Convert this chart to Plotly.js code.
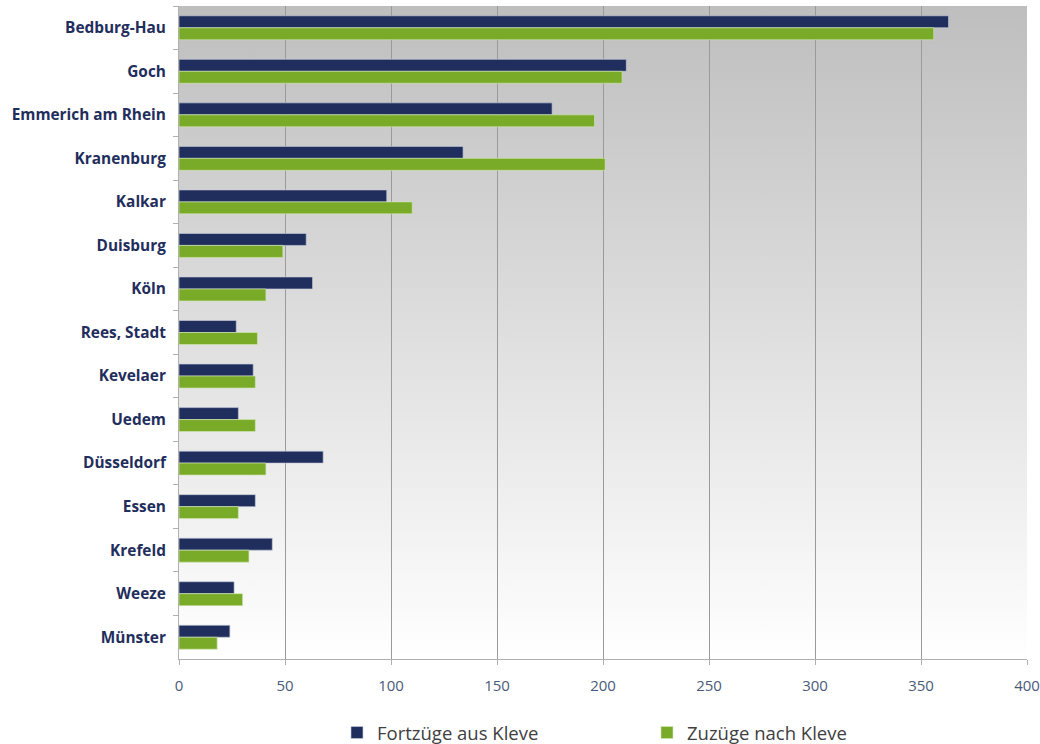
<!DOCTYPE html>
<html>
<head>
<meta charset="utf-8">
<script src="https://cdn.plot.ly/plotly-3.0.1.min.js"></script>
<style>html,body{margin:0;padding:0;background:#fff;}#chart{width:1040px;height:744px;}</style>
</head>
<body>
<div id="chart"></div>
<script>
const categories = ["Bedburg-Hau","Goch","Emmerich am Rhein","Kranenburg","Kalkar","Duisburg","Köln","Rees, Stadt","Kevelaer","Uedem","Düsseldorf","Essen","Krefeld","Weeze","Münster"];
const fortzuege = [363, 211, 176, 134, 98, 60, 63, 27, 35, 28, 68, 36, 44, 26, 24];
const zuzuege   = [356, 209, 196, 201, 110, 49, 41, 37, 36, 36, 41, 28, 33, 30, 18];
const seriesNames = ["Fortzüge aus Kleve", "Zuzüge nach Kleve"];
const xTicks = [0, 50, 100, 150, 200, 250, 300, 350, 400];

const gradSvg = '<svg xmlns="http://www.w3.org/2000/svg" width="100" height="100" preserveAspectRatio="none">' +
  '<defs><linearGradient id="g" x1="0" y1="0" x2="0" y2="1">' +
  '<stop offset="0" stop-color="#bebebe"/><stop offset="1" stop-color="#ffffff"/></linearGradient></defs>' +
  '<rect width="100" height="100" fill="url(#g)"/></svg>';
const gradUri = 'data:image/svg+xml;base64,' + btoa(gradSvg);

const traces = [
  {type:'bar', orientation:'h', name:seriesNames[0], y:categories, x:fortzuege,
   marker:{color:'#1f2e5c', line:{color:'rgba(200,205,220,0.8)', width:0.8}}},
  {type:'bar', orientation:'h', name:seriesNames[1], y:categories, x:zuzuege,
   marker:{color:'#7aab28', line:{color:'rgba(210,230,180,0.8)', width:0.8}}}
];

const layout = {
  width:1040, height:744,
  margin:{l:179, r:13, t:6, b:85, autoexpand:false},
  paper_bgcolor:'#ffffff',
  plot_bgcolor:'rgba(0,0,0,0)',
  barmode:'group',
  bargap:0.45,
  bargroupgap:0,
  images:[{source:gradUri, xref:'paper', yref:'paper', x:0, y:1, sizex:1, sizey:1,
           xanchor:'left', yanchor:'top', sizing:'stretch', layer:'below'}],
  xaxis:{range:[0,400], tickvals:xTicks, ticktext:xTicks.map(String),
         showgrid:true, gridcolor:'#9a9a9a', gridwidth:1,
         zeroline:false, showline:true, linecolor:'#b0b0b0', linewidth:1,
         ticks:'outside', ticklen:5, tickcolor:'#b0b0b0', ticklabelstandoff:8,
         tickfont:{family:'Open Sans, sans-serif', size:15, color:'#4a5a7a'}},
  yaxis:{autorange:'reversed', type:'category', showgrid:false, zeroline:false,
         showline:true, linecolor:'#b0b0b0', linewidth:1,
         ticks:'outside', ticklen:5, tickcolor:'#b0b0b0', tickson:'boundaries',
         ticklabelstandoff:9,
         tickfont:{family:'Open Sans, sans-serif', size:15.4, color:'#1f2e5c', weight:'bold'}},
  showlegend:true,
  legend:{orientation:'h', xref:'paper', x:0.1863, xanchor:'left',
          yref:'container', y:0.0148, yanchor:'middle',
          entrywidth:265, entrywidthmode:'pixels',
          font:{family:'Open Sans, sans-serif', size:18.5, color:'#404040'},
          bgcolor:'rgba(0,0,0,0)'}
};

Plotly.newPlot('chart', traces, layout, {displayModeBar:false, staticPlot:true});
</script>
</body>
</html>
